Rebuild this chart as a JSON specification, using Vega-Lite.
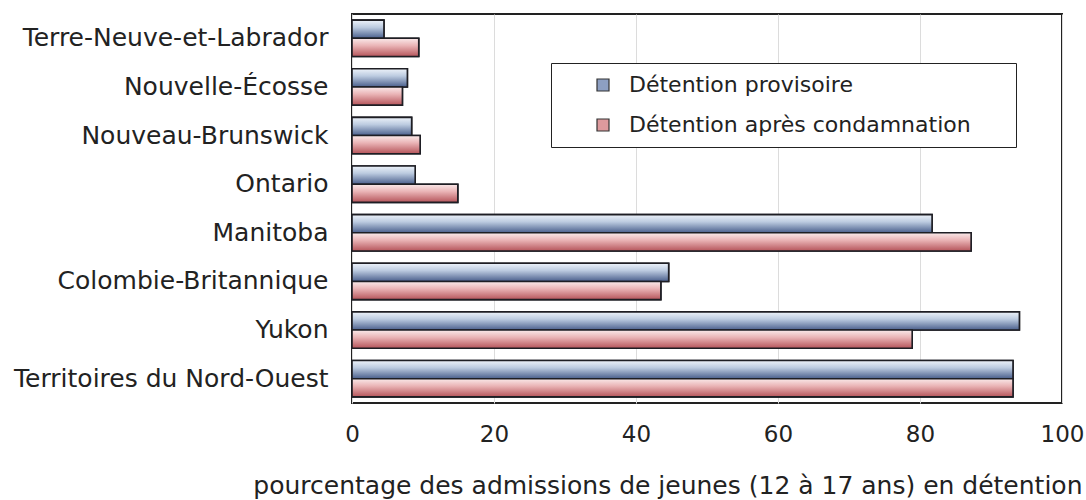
{
  "$schema": "https://vega.github.io/schema/vega-lite/v6.json",
  "width": 710,
  "height": 389,
  "autosize": {"type": "none"},
  "padding": {"left": 352, "top": 14, "right": 24, "bottom": 97},
  "background": "white",
  "data": {
    "values": [
      {"province": "Terre-Neuve-et-Labrador", "serie": "Détention provisoire", "valeur": 4.5},
      {"province": "Terre-Neuve-et-Labrador", "serie": "Détention après condamnation", "valeur": 9.4},
      {"province": "Nouvelle-Écosse", "serie": "Détention provisoire", "valeur": 7.8},
      {"province": "Nouvelle-Écosse", "serie": "Détention après condamnation", "valeur": 7.1},
      {"province": "Nouveau-Brunswick", "serie": "Détention provisoire", "valeur": 8.4},
      {"province": "Nouveau-Brunswick", "serie": "Détention après condamnation", "valeur": 9.6},
      {"province": "Ontario", "serie": "Détention provisoire", "valeur": 8.9},
      {"province": "Ontario", "serie": "Détention après condamnation", "valeur": 14.9},
      {"province": "Manitoba", "serie": "Détention provisoire", "valeur": 81.7},
      {"province": "Manitoba", "serie": "Détention après condamnation", "valeur": 87.2},
      {"province": "Colombie-Britannique", "serie": "Détention provisoire", "valeur": 44.6},
      {"province": "Colombie-Britannique", "serie": "Détention après condamnation", "valeur": 43.5},
      {"province": "Yukon", "serie": "Détention provisoire", "valeur": 94.0},
      {"province": "Yukon", "serie": "Détention après condamnation", "valeur": 78.9},
      {"province": "Territoires du Nord-Ouest", "serie": "Détention provisoire", "valeur": 93.1},
      {"province": "Territoires du Nord-Ouest", "serie": "Détention après condamnation", "valeur": 93.1}
    ]
  },
  "encoding": {
    "y": {
      "field": "province",
      "type": "nominal",
      "sort": ["Terre-Neuve-et-Labrador", "Nouvelle-Écosse", "Nouveau-Brunswick", "Ontario", "Manitoba", "Colombie-Britannique", "Yukon", "Territoires du Nord-Ouest"],
      "scale": {"paddingInner": 0.25, "paddingOuter": 0.125},
      "axis": {
        "title": null,
        "ticks": false,
        "domain": false,
        "labelPadding": 24,
        "labelFontSize": 25,
        "labelFont": "DejaVu Sans",
        "labelColor": "#222",
        "labelLimit": 400
      }
    },
    "yOffset": {
      "field": "serie",
      "type": "nominal",
      "sort": ["Détention provisoire", "Détention après condamnation"],
      "scale": {"domain": ["Détention provisoire", "Détention après condamnation"], "paddingInner": 0, "paddingOuter": 0}
    },
    "x": {
      "field": "valeur",
      "type": "quantitative",
      "scale": {"domain": [0, 100], "nice": false},
      "axis": {
        "values": [0, 20, 40, 60, 80, 100],
        "grid": true,
        "gridColor": "#dcdcdc",
        "gridWidth": 1,
        "ticks": false,
        "domain": false,
        "labelPadding": 20,
        "labelFontSize": 23,
        "labelFont": "DejaVu Sans",
        "labelColor": "#222",
        "labelFlush": false,
        "title": "pourcentage des admissions de jeunes (12 à 17 ans) en détention",
        "titleFont": "DejaVu Sans",
        "titleFontSize": 25,
        "titleFontWeight": "normal",
        "titleColor": "#222",
        "titlePadding": 27,
        "titleAlign": "right",
        "titleX": 730
      }
    }
  },
  "layer": [
    {
      "mark": {"type": "bar", "stroke": "#1e1e24", "strokeWidth": 1.6},
      "encoding": {
        "fill": {
          "field": "serie",
          "type": "nominal",
          "sort": ["Détention provisoire", "Détention après condamnation"],
          "scale": {
            "domain": ["Détention provisoire", "Détention après condamnation"],
            "range": ["#8d9fc2", "#dd9a9d"]
          },
          "legend": {
            "title": ".",
            "titleOrient": "right",
            "titleColor": "white",
            "titleFontSize": 10,
            "titlePadding": 31,
            "orient": "none",
            "legendX": 199,
            "legendY": 49,
            "padding": 11,
            "rowPadding": 18,
            "symbolType": "square",
            "symbolSize": 144,
            "symbolOffset": 30,
            "symbolStrokeColor": "#333",
            "symbolStrokeWidth": 1.2,
            "labelOffset": 15,
            "labelFont": "DejaVu Sans",
            "labelFontSize": 22,
            "labelColor": "#222",
            "labelLimit": 500,
            "fillColor": "white",
            "strokeColor": "#222"
          }
        }
      }
    },
    {
      "transform": [{"filter": "datum.serie === 'Détention provisoire'"}],
      "mark": {
        "type": "bar",
        "stroke": "#1e1e24",
        "strokeWidth": 1.6,
        "fill": {"gradient": "linear", "x1": 0, "y1": 0, "x2": 0, "y2": 1, "stops": [{"offset": 0, "color": "#eef3fa"}, {"offset": 0.4, "color": "#bccbe0"}, {"offset": 1, "color": "#4a5f8c"}]}
      }
    },
    {
      "transform": [{"filter": "datum.serie === 'Détention après condamnation'"}],
      "mark": {
        "type": "bar",
        "stroke": "#1e1e24",
        "strokeWidth": 1.6,
        "fill": {"gradient": "linear", "x1": 0, "y1": 0, "x2": 0, "y2": 1, "stops": [{"offset": 0, "color": "#faeaea"}, {"offset": 0.4, "color": "#eab4b6"}, {"offset": 1, "color": "#b5545a"}]}
      }
    }
  ],
  "config": {
    "view": {"stroke": "#222", "strokeWidth": 2}
  }
}
